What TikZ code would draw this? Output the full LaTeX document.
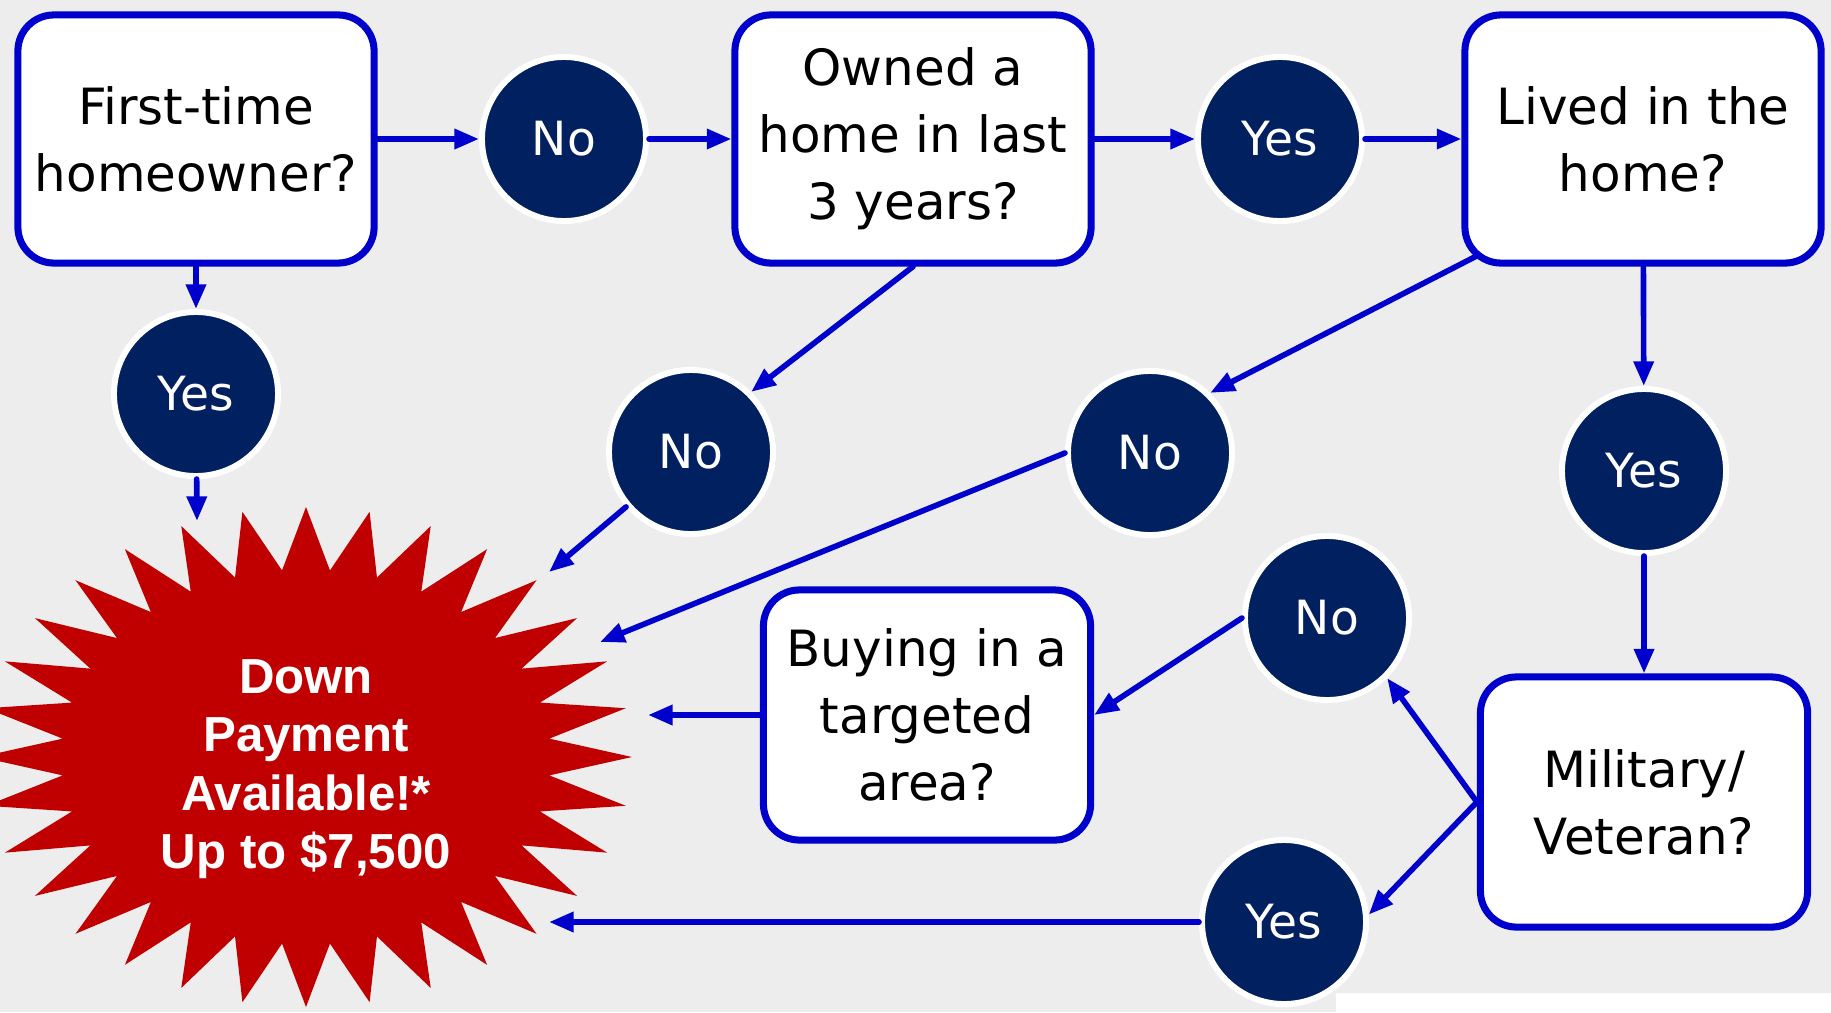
\documentclass[tikz,border=0pt]{standalone}
\usepackage{fontspec}
\setmainfont{DejaVu Sans}
\newfontfamily\burstfont{Liberation Sans}
\usetikzlibrary{arrows.meta,positioning}
\definecolor{pagegray}{HTML}{EDEDED}
\definecolor{qblue}{HTML}{0000CC}
\definecolor{ansnavy}{HTML}{002060}
\definecolor{burstred}{HTML}{C00000}
\newcommand*{\qsize}{\fontsize{14.2}{19}\selectfont}
\newcommand*{\asize}{\fontsize{13.4}{15}\selectfont}
\newcommand*{\burstsize}{\fontsize{14}{16.6}\selectfont}

\begin{document}
\begin{tikzpicture}[x=0.01cm, y=-0.01cm,
    question/.style={rectangle, rounded corners=0.36cm, draw=qblue, line width=2pt, fill=white, align=center, minimum width=3.56cm, minimum height=2.48cm, font=\qsize},
    answer/.style={circle, draw=white, line width=1.7pt, fill=ansnavy, text=white, minimum size=1.64cm, inner sep=0pt, font=\asize},
    flow/.style={draw=qblue, line width=1.6pt, line cap=round, -{Triangle[length=7pt,width=5.5pt]}}]
      \useasboundingbox (0,0) rectangle (1831,1012);
      \fill[pagegray] (0,0) rectangle (1831,1012);
      \fill[white] (1336,993) rectangle (1831,1012);

      % the burst
      \fill[burstred] (632,757) \foreach \k in {1,...,63} { -- ({306+(1-0.25*mod(\k,2))*326*cos(\k*5.625)},{757+(1-0.25*mod(\k,2))*250*sin(\k*5.625)}) } -- cycle;
      \node[text=white, align=center, font=\burstfont\bfseries\burstsize] (burst) at (306,769) {Down\\Payment\\Available!*\\Up to \$7,500};
      \coordinate (in1) at (197,521);
      \coordinate (in2) at (549,572);
      \coordinate (in3) at (600,642);
      \coordinate (in4) at (648,715);
      \coordinate (in5) at (549,922);

      \node[question] (first) at (196,139) {First-time\\homeowner?};
      \node[question] (owned) at (913,139) {Owned a\\home in last\\3 years?};
      \node[question] (lived) at (1643,139) {Lived in the\\home?};
      \node[question, minimum width=3.27cm, minimum height=2.5cm] (buying) at (927,715) {Buying in a\\targeted\\area?};
      \node[question, minimum width=3.27cm, minimum height=2.5cm] (military) at (1644,802) {Military/\\Veteran?};
      \coordinate (livedcorner) at ([shift={(16,-11)}]lived.south west);

      \node[answer] (no1) at (564,139) {No};
      \node[answer] (yes2) at (1280,139) {Yes};
      \node[answer] (yes1) at (196,394) {Yes};
      \node[answer] (no2) at (691,452) {No};
      \node[answer] (no3) at (1150,453) {No};
      \node[answer] (yes3) at (1644,471) {Yes};
      \node[answer] (no4) at (1327,618) {No};
      \node[answer] (yes4) at (1284,922) {Yes};

      \foreach \from/\to in {first/no1, no1/owned, owned/yes2, yes2/lived,
          first/yes1, yes1/in1, owned.south/no2.45, no2/in2,
          livedcorner/no3.45, no3.west/in3, lived/yes3, yes3/military,
          military.west/no4.315, military.west/yes4.5, no4.west/buying.east,
          buying/in4, yes4/in5}
        \draw[flow] (\from) -- (\to);
\end{tikzpicture}
\end{document}
